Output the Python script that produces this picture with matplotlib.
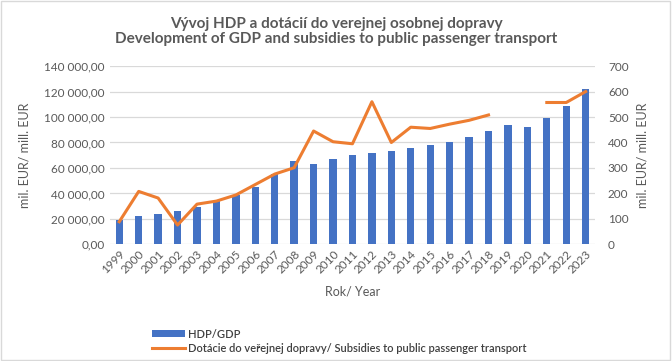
import numpy as np
import matplotlib.pyplot as plt
from matplotlib.ticker import FuncFormatter

plt.rcParams['font.family'] = ['Lato', 'DejaVu Sans']

years = [str(y) for y in range(1999, 2024)]
gdp = [19100, 22500, 23800, 26200, 29600, 34000, 38700, 45300, 55200, 65400,
       63300, 67000, 70100, 71700, 73300, 75600, 78000, 80300, 84300, 89000,
       93700, 92100, 99200, 108600, 122000]
subsidies = [89, 208, 182, 76, 158, 170, 194, 235, 276, 301,
             445, 403, 395, 560, 400, 460, 455, 472, 487, 508,
             np.nan, np.nan, 557, 557, 600]

blue = '#4472C4'
orange = '#ED7D31'
grey = '#595959'

fig = plt.figure(figsize=(6.72, 3.61), dpi=100)
ax = fig.add_axes([0.163, 0.323, 0.723, 0.494])
ax2 = ax.twinx()

x = np.arange(len(years))
ax.bar(x, gdp, width=0.38, color=blue, label='HDP/GDP', zorder=2)
ax2.plot(x, subsidies, color=orange, lw=2.2,
         label='Dotácie do veřejnej dopravy/ Subsidies to public passenger transport')

ax.set_xlim(-0.5, len(years) - 0.5)
ax.set_ylim(0, 140000)
ax2.set_ylim(0, 700)
ax.set_yticks(np.arange(0, 140001, 20000))
ax2.set_yticks(np.arange(0, 701, 100))
ax.yaxis.set_major_formatter(FuncFormatter(lambda v, p: f"{v:,.2f}".replace(',', ' ').replace('.', ',')))
ax.grid(axis='y', color='#d9d9d9', lw=0.9, zorder=0)
ax.set_axisbelow(True)

ax.set_xticks(x)
ax.set_xticklabels(years, rotation=45, ha='right', rotation_mode='anchor', fontsize=7.5, color=grey)
for a in (ax, ax2):
    for s in a.spines.values():
        s.set_visible(False)
    a.tick_params(length=0, colors=grey, labelsize=8.5)
ax.tick_params(axis='x', pad=3)
ax2.tick_params(axis='y', pad=9)

ax.set_ylabel('mil. EUR/ mill. EUR', color=grey, fontsize=9, labelpad=10)
ax2.set_ylabel('mil. EUR/ mill. EUR', color=grey, fontsize=9, labelpad=6)
ax.set_xlabel('Rok/ Year', color=grey, fontsize=9, labelpad=7)

fig.text(0.5, 0.913, 'Vývoj HDP a dotácií do verejnej osobnej dopravy\nDevelopment of GDP and subsidies to public passenger transport',
         ha='center', va='center', fontsize=11, fontweight='bold', color=grey, linespacing=1.1)

h1, l1 = ax.get_legend_handles_labels()
h2, l2 = ax2.get_legend_handles_labels()
fig.legend(h1 + h2, l1 + l2, loc='upper left', bbox_to_anchor=(0.218, 0.105),
           frameon=False, fontsize=8, labelcolor='#404040', handlelength=3.0,
           handleheight=0.6, labelspacing=0.3, borderpad=0, handletextpad=0.25,
           prop={'weight': 'semibold', 'size': 8})

fig.patches.append(plt.Rectangle((0.002, 0.003), 0.995, 0.993, transform=fig.transFigure,
                                 fill=False, edgecolor='#d9d9d9', lw=1))

fig.savefig('out.png', dpi=100)
